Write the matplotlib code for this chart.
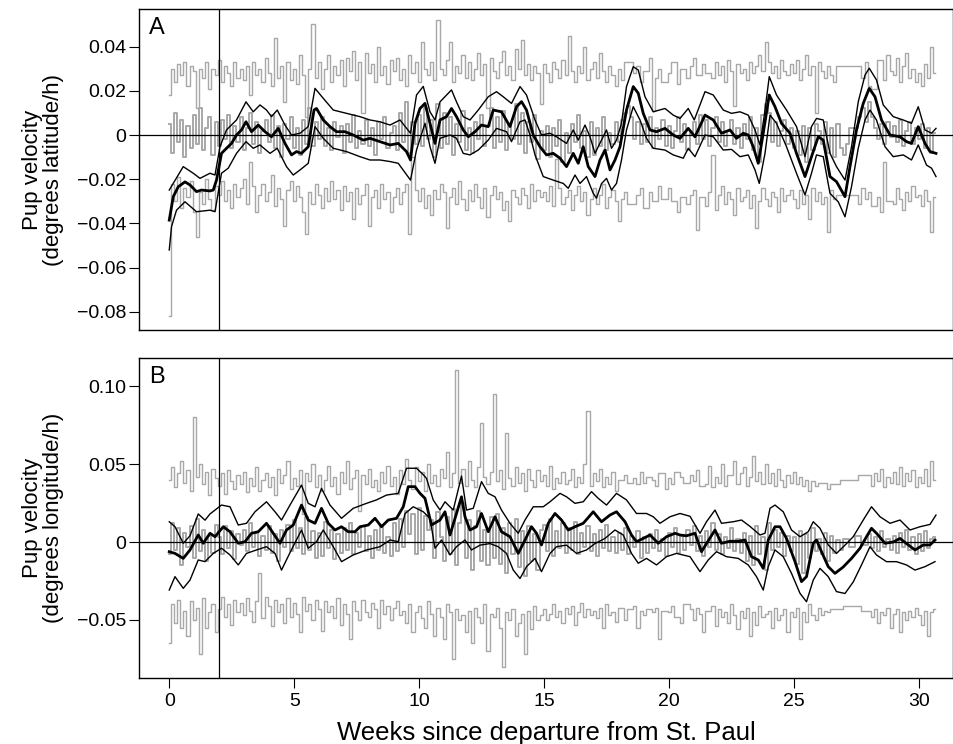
import numpy as np
import matplotlib
matplotlib.use("Agg")
from matplotlib import pyplot as plt

# ---- Settings ----
plt.rcParams['font.family'] = ['Liberation Sans Narrow', 'Liberation Sans', 'DejaVu Sans']
GRAY = "#a8a8a8"
GRAY_STEP = 0.125      # weeks between gray samples
MILLI = 1000.0         # all values below are in 0.001 deg/h

X_TICKS = [0, 5, 10, 15, 20, 25, 30]
A_TICKS = [0.04, 0.02, 0, -0.02, -0.04, -0.06, -0.08]
A_TICK_LABELS = ["0.04", "0.02", "0", "\u22120.02", "\u22120.04", "\u22120.06", "\u22120.08"]
B_TICKS = [0.10, 0.05, 0, -0.05]
B_TICK_LABELS = ["0.10", "0.05", "0", "\u22120.05"]
BREAK_WEEK = 2

# ---- Panel A (latitude) ----
# gray traces, one row per week (8 samples per week)
A_GRAY_HI = [
    18, 30, 24, 32, 27, 33, 22, 31,
    29, 12, 30, 26, 33, 21, 30, 27,
    34, 24, 31, 28, 22, 33, 26, 30,
    25, 31, 18, 33, 27, 30, 24, 35,
    28, 22, 44, 26, 31, 15, 33, 25,
    30, 23, 36, 27, 8, 30, 50, 26,
    33, 21, 30, 36, 24, 31, 27, 34,
    22, 35, 29, 38, 25, 33, 10, 37,
    28, 32, 24, 40, 27, 31, 23, 34,
    29, 35, 25, 30, 22, 36, 28, 33,
    24, 42, 30, 27, 33, 25, 52, 30,
    27, 34, 42, 24, 31, 28, 36, 26,
    33, 25, 30, 37, 27, 32, 12, 35,
    29, 26, 33, 38, 27, 31, 25, 39,
    30, 43, 27, 32, 25, 31, 28, 14,
    32, 28, 24, 33, 30, 26, 34, 27,
    45, 29, 24, 31, 28, 40, 25, 30,
    33, 26, 37, 29, 24, 31, 27, 22,
    30, 25, 33, 33, 33, 28, 31, 24,
    29, 29, 35, 11, 26, 30, 24, 24,
    28, 33, 33, 23, 30, 30, 26, 31,
    35, 27, 27, 32, 28, 28, 26, 33,
    27, 31, 24, 34, 29, 13, 32, 28,
    30, 25, 33, 28, 31, 36, 29, 42,
    33, 28, 31, 26, 34, 29, 27, 32,
    28, 34, 25, 30, 36, 27, 31, 10,
    33, 29, 26, 31, 27, 24, 31, 31,
    31, 31, 31, 31, 31, 31, 26, 33,
    22, 21, 21, 34, 34, 25, 36, 29,
    27, 35, 24, 31, 37, 26, 30, 24,
    28, 22, 32, 26, 40, 28,
]
A_GRAY_MID = [
    5, -8, 10, -3, 7, -10, 4, -6,
    9, -4, 12, -7, 3, 8, -9, 6,
    -5, 7, -2, 9, -6, 4, -3, 8,
    -7, 3, 10, -4, 6, -8, 2, 7,
    -3, 9, -6, 4, -10, 5, -2, 8,
    -6, 3, -9, 7, -4, 12, -5, 6,
    -2, 8, -5, 3, -7, 6, -1, 4,
    -8, 5, -3, 9, -6, 2, -4, 7,
    -5, 3, -9, 6, -2, 8, -6, 1,
    4, -7, 10, -3, 15, -8, 6, -4,
    9, -5, 12, -2, 7, -10, 14, -6,
    10, -4, 8, -9, 5, -3, 11, -7,
    3, -8, 6, -2, 9, -5, 4, 12,
    -6, 8, -3, 11, -7, 5, -2, 14,
    -4, 10, -8, 6, -3, 9, -11, 2,
    -7, 4, -10, 3, -5, 7, -12, 1,
    -8, 5, -3, 9, -6, 2, -10, 6,
    -9, 3, -5, 8, -7, 1, -4, 6,
    -3, 7, 10, 13, 8, -2, 6, -4,
    5, -3, 8, -6, 3, -2, 7, -5,
    4, -6, 2, 8, -3, 5, -7, 1,
    6, -4, 9, -2, 7, -5, 3, 8,
    -3, 6, -5, 2, 7, -4, 3, -6,
    5, -2, 8, -7, 3, -12, 9, 14,
    10, -3, 6, -5, 2, 7, -4, 3,
    -6, 2, -9, 4, -12, 3, -7, 5,
    2, -4, 6, -8, 3, -10, 5, -6,
    -9, -4, 3, 3, 3, 8, 12, 6,
    15, 8, 3, -2, 5, -4, 6, -1,
    4, -3, 7, -5, 2, 6, -4, 3,
    -2, 5, -6, 3, -8, 1,
]
A_GRAY_LO = [
    -82, -22, -30, -19, -33, -24, -28, -21,
    -35, -46, -26, -31, -20, -29, -34, -23,
    -27, -21, -30, -25, -33, -22, -28, -24,
    -20, -31, -12, -23, -35, -27, -22, -30,
    -26, -18, -32, -24, -29, -41, -25, -21,
    -30, -23, -28, -35, -45, -26, -31, -22,
    -27, -33, -24, -30, -21, -29, -25, -34,
    -23, -30, -26, -38, -24, -31, -27, -22,
    -41, -28, -25, -33, -22, -29, -26, -35,
    -28, -24, -31, -26, -22, -45, -10, -25,
    -30, -24, -33, -27, -36, -25, -29, -22,
    -26, -42, -28, -24, -31, -21, -29, -34,
    -25, -30, -22, -28, -33, -24, -37, -27,
    -23, -29, -26, -34, -30, -39, -25, -28,
    -31, -24, -27, -33, -22, -30, -25, -28,
    -26, -30, -23, -32, -11, -24, -31, -28,
    -25, -34, -27, -23, -30, -26, -36, -29,
    -24, -31, -27, -22, -33, -28, -25, -30,
    -39, -29, -26, -31, -31, -31, -27, -24,
    -33, -33, -26, -30, -30, -23, -29, -29,
    -24, -30, -30, -35, -28, -28, -31, -27,
    -25, -43, -28, -28, -32, -26, -9, -34,
    -27, -23, -31, -26, -29, -36, -24, -30,
    -28, -25, -33, -27, -42, -30, -24, -29,
    -32, -26, -28, -35, -24, -30, -27, -25,
    -29, -33, -25, -31, -27, -38, -24, -30,
    -26, -31, -28, -44, -25, -29, -27, -27,
    -27, -27, -27, -27, -27, -31, -24, -29,
    -26, -32, -32, -28, -35, -12, -30, -30,
    -31, -24, -29, -34, -26, -30, -23, -28,
    -27, -32, -25, -30, -44, -28,
]
# smoothed mean and interval, (week, value)
A_MEAN = [
    (0, -38.5), (0.16, -27.9), (0.36, -23.4), (0.63, -21.2), (0.83, -22.6), (1.09, -25.6),
    (1.29, -24.9), (1.63, -25.3), (1.76, -24.9), (1.89, -20.4), (2.09, -8.3), (2.29, -6.0),
    (2.49, -3.8), (2.69, 0), (2.89, 2.3), (3.07, 6.0), (3.29, 1.5), (3.56, 4.5), (3.83, 1.5),
    (4.09, -0.8), (4.36, 3.0), (4.63, -3.8), (4.89, -9.0), (5.09, -7.5), (5.29, -8.3),
    (5.56, -5.3), (5.79, 11.3), (5.89, 12), (6.16, 6.8), (6.43, 3.8), (6.69, 1.5), (7.03, 1.5),
    (7.36, 0), (7.76, -2.3), (8.03, -1.5), (8.43, -3), (8.83, -4.5), (9.16, -3.8), (9.49, -7.5),
    (9.65, -11.3), (9.83, 5.3), (10.03, 12), (10.23, 14.3), (10.43, 5.3), (10.63, -3.8),
    (10.83, 6.8), (11.09, 8.3), (11.29, 12), (11.49, 8.3), (11.76, 2.3), (11.96, -0.8),
    (12.23, 1.5), (12.49, 4.5), (12.76, 3.8), (12.96, 11.3), (13.29, 10.5), (13.63, 3.8),
    (13.89, 12.8), (14.09, 15.1), (14.29, 11.3), (14.56, 0), (14.83, -5.3), (15.09, -9),
    (15.36, -8.3), (15.63, -10.5), (15.89, -14.3), (16.16, -8.3), (16.36, -12.8), (16.56, -5.3),
    (16.76, -14.3), (17.03, -18.8), (17.23, -11.3), (17.43, -6.8), (17.63, -15.8), (17.83, -11.3),
    (18.03, -5.3), (18.29, 11.3), (18.56, 21.9), (18.76, 18.9), (18.96, 9.8), (19.23, 2.3),
    (19.49, 1.5), (19.83, 3), (20.16, 0), (20.43, -1.5), (20.76, 3), (21.03, -0.8), (21.43, 9),
    (21.76, 6.8), (22.09, 0.8), (22.43, 2.3), (22.69, -1.5), (22.96, 0.8), (23.16, 0),
    (23.36, -5.3), (23.56, -12.8), (23.76, 0.8), (24.0, 18.1), (24.23, 12.8), (24.49, 5.3),
    (24.83, 0.8), (25.09, -8.3), (25.43, -18.8), (25.69, -9.8), (25.96, -0.8), (26.16, -2.3),
    (26.43, -18.8), (26.69, -21.1), (27.03, -27.9), (27.23, -14.3), (27.49, 2.3), (27.76, 14.3),
    (28.0, 21.1), (28.23, 17.3), (28.49, 6.8), (28.83, 0), (29.23, -0.8), (29.49, -3),
    (29.69, -3.8), (29.96, 3.8), (30.23, -3.8), (30.43, -7.5), (30.67, -8.3),
]
A_UPPER = [
    (0, -24.9), (0.56, -14.3), (0.96, -17.3), (1.23, -19.6), (1.63, -17.3), (1.83, -18.1),
    (2.03, -5.3), (2.29, 2.3), (2.69, 6.8), (3.07, 15), (3.36, 10.5), (3.63, 13.6), (3.89, 11.3),
    (4.09, 8.3), (4.32, 11.3), (4.63, 4.5), (4.89, 0), (5.23, 0.8), (5.56, 3.8), (5.83, 21.1),
    (6.16, 16.6), (6.56, 11.3), (7.09, 9.8), (7.63, 8.3), (8.03, 6.8), (8.43, 6.0), (8.83, 4.5),
    (9.23, 6.8), (9.65, 0.8), (9.89, 18.1), (10.16, 22), (10.43, 10.5), (10.63, 6.8),
    (10.83, 15), (11.29, 20.4), (11.49, 15), (11.76, 8.3), (12.03, 6.8), (12.36, 11.3),
    (12.76, 17.3), (13.09, 19.6), (13.36, 17.3), (13.69, 14.3), (14.03, 21.9), (14.29, 18.1),
    (14.63, 6.8), (14.89, 0), (15.23, 0.8), (15.49, -0.8), (15.89, -3.8), (16.16, 2.3),
    (16.36, -2.3), (16.63, 4.5), (16.83, -0.8), (17.03, -8.3), (17.29, -2.3), (17.49, 2.3),
    (17.69, -6), (17.89, -2.3), (18.09, 5.3), (18.29, 21.9), (18.56, 30.9), (18.76, 29.4),
    (19.03, 17.3), (19.36, 10.5), (19.83, 12), (20.16, 9), (20.43, 7.5), (20.76, 12),
    (21.0, 6.8), (21.43, 19.6), (21.76, 18.1), (22.16, 11.3), (22.49, 9.8), (22.83, 10.5),
    (23.16, 9), (23.43, 2.3), (23.63, -4.5), (23.83, 11.3), (24.0, 26.4), (24.29, 18.1),
    (24.69, 11.3), (25.09, 3.8), (25.43, -9.8), (25.69, 3.8), (25.89, 7.5), (26.16, 6.8),
    (26.43, -8.3), (26.69, -14.3), (27.03, -20.4), (27.29, -5.3), (27.56, 15), (27.83, 27.1),
    (28.0, 30.2), (28.29, 24.9), (28.56, 13.6), (28.96, 8.3), (29.36, 6.8), (29.69, 5.3),
    (29.96, 12.8), (30.23, 2.3), (30.49, 0.8), (30.67, 3),
]
A_LOWER = [
    (0, -52), (0.09, -41.5), (0.29, -34), (0.63, -30.2), (1.09, -34.7), (1.63, -34),
    (1.83, -34.7), (2.09, -17.3), (2.36, -15), (2.69, -8.3), (3.07, -3), (3.36, -6),
    (3.63, -4.5), (4.03, -8.3), (4.32, -6), (4.69, -14.3), (4.96, -18.1), (5.23, -15.8),
    (5.56, -12.8), (5.83, 3.8), (6.16, -1.5), (6.56, -6), (7.09, -7.5), (7.63, -9.8),
    (8.03, -11.3), (8.43, -11.3), (8.83, -12), (9.16, -12.8), (9.65, -20.4), (9.89, -6.8),
    (10.23, 5.3), (10.43, -5.3), (10.63, -12.8), (10.83, -1.5), (11.23, 0), (11.49, -1.5),
    (11.76, -8.3), (12.03, -9), (12.36, -6.8), (12.76, -2.3), (13.09, 3), (13.49, 1.5),
    (13.69, -3), (14.03, 6), (14.23, 6.8), (14.43, 0), (14.63, -9), (14.96, -18.8),
    (15.36, -20.4), (15.76, -21.9), (15.96, -24.1), (16.23, -18.1), (16.43, -21.9),
    (16.69, -18.8), (16.96, -26.4), (17.09, -28.6), (17.29, -22), (17.49, -19.6),
    (17.69, -24.9), (17.89, -21.9), (18.09, -11.3), (18.29, 2.3), (18.56, 12.8), (18.83, 6.8),
    (19.09, -1.5), (19.36, -6), (19.83, -6.8), (20.16, -9), (20.56, -10.5), (20.76, -6),
    (21.03, -9.8), (21.43, 0), (21.76, -0.8), (22.16, -6.8), (22.49, -6.5), (22.83, -9.8),
    (23.16, -9), (23.43, -15.8), (23.6, -21.9), (23.83, -8.3), (24.03, 9), (24.29, 5.3),
    (24.69, -5.3), (25.09, -17.3), (25.43, -27.1), (25.69, -17.3), (25.89, -9), (26.16, -9.8),
    (26.43, -26.4), (26.76, -30.2), (27.03, -37), (27.29, -23.4), (27.56, -6), (27.83, 6.8),
    (28.03, 11.3), (28.29, 6.8), (28.63, -5.3), (28.96, -9.8), (29.36, -9), (29.69, -11.3),
    (29.96, -4.5), (30.29, -13.6), (30.49, -15), (30.67, -18.8),
]

# ---- Panel B (longitude) ----
B_GRAY_HI = [
    40, 48, 35, 44, 52, 38, 46, 33,
    80, 42, 50, 37, 45, 30, 47, 41,
    36, 44, 31, 46, 39, 34, 43, 37,
    45, 32, 41, 36, 48, 33, 40, 44,
    35, 42, 30, 47, 38, 43, 52, 34,
    41, 36, 46, 18, 44, 39, 50, 35,
    43, 33, 40, 49, 36, 42, 31, 45,
    38, 52, 34, 41, 46, 20, 43, 37,
    47, 35, 40, 33, 45, 38, 49, 36,
    42, 31, 46, 37, 53, 40, 34, 48,
    39, 45, 33, 50, 38, 43, 36, 47,
    41, 58, 35, 44, 110, 38, 47, 36,
    52, 40, 35, 48, 76, 42, 37, 45,
    95, 39, 46, 34, 70, 41, 36, 48,
    38, 44, 33, 47, 40, 35, 46, 39,
    43, 36, 49, 34, 41, 38, 45, 37,
    40, 47, 35, 42, 38, 50, 84, 36,
    44, 39, 47, 35, 42, 37, 45, 33,
    40, 40, 43, 38, 38, 41, 37, 45,
    38, 42, 42, 40, 36, 44, 44, 34,
    41, 37, 45, 45, 42, 38, 38, 43,
    39, 46, 36, 36, 37, 49, 35, 42,
    38, 50, 36, 43, 43, 52, 37, 44,
    48, 36, 42, 55, 39, 45, 37, 50,
    38, 44, 36, 47, 40, 35, 43, 38,
    45, 37, 42, 36, 40, 33, 39, 36,
    38, 38, 38, 34, 37, 37, 37, 40,
    40, 40, 40, 40, 40, 43, 43, 43,
    43, 36, 44, 39, 47, 35, 42, 38,
    45, 37, 48, 36, 44, 39, 46, 35,
    42, 38, 47, 36, 52, 40,
]
B_GRAY_MID = [
    -8, 12, -5, 9, -15, 6, -3, 10,
    -10, 15, -6, 8, -12, 4, -7, 11,
    3, -8, 10, -4, 7, -11, 5, -2,
    8, -6, 12, -3, 6, -9, 4, -5,
    10, -7, 5, -12, 8, -3, 11, -6,
    14, -4, 9, -8, 16, -5, 7, -10,
    6, -9, 13, -4, 8, -11, 5, -7,
    9, -5, 12, -8, 6, -3, 10, -6,
    4, -10, 8, -5, 11, -7, 3, -9,
    12, -6, 15, -3, 20, 5, 18, -8,
    22, -5, 17, 8, 14, -10, 19, 3,
    -12, 16, -8, 21, -15, 12, 25, -10,
    14, -18, 10, 20, -12, 8, -15, 16,
    -10, 18, -14, 9, -20, 12, -8, 15,
    -16, 7, -22, 10, -12, 5, -18, 8,
    11, -6, 15, -9, 7, -4, 12, -7,
    9, -5, 13, -8, 6, -3, 10, -6,
    5, -9, 8, -4, 11, -6, 3, -7,
    6, -5, 9, -8, 4, -3, 7, -10,
    3, -7, 5, -4, 8, -6, 2, -9,
    6, -3, 9, -7, 4, -5, 8, -2,
    10, -6, 4, -9, 7, -3, 12, -5,
    5, -8, 3, -4, 9, -6, 2, -7,
    6, -12, 4, -15, 10, -8, 3, -18,
    12, -5, 8, -3, 6, -9, 4, -6,
    3, -14, 7, -20, 5, -10, 9, -6,
    2, -8, 6, -12, 4, -7, 1, -5,
    2, 2, -3, -3, 4, 4, -2, -2,
    5, -4, 3, -6, 7, -3, 2, -5,
    4, -7, 6, -3, 8, -5, 3, -8,
    5, -6, 7, -4, 2, 3,
]
B_GRAY_LO = [
    -65, -40, -52, -37, -55, -44, -60, -38,
    -50, -42, -72, -36, -55, -45, -40, -58,
    -43, -35, -48, -40, -53, -37, -45, -39,
    -47, -36, -44, -51, -38, -20, -49, -35,
    -41, -54, -37, -45, -40, -52, -36, -48,
    -39, -46, -58, -35, -44, -40, -50, -37,
    -43, -57, -38, -45, -41, -49, -36, -53,
    -40, -46, -62, -38, -44, -50, -37, -45,
    -48, -39, -43, -55, -37, -46, -41, -50,
    -42, -38, -47, -44, -52, -40, -58, -45,
    -41, -49, -55, -38, -46, -60, -42, -48,
    -62, -40, -45, -75, -43, -50, -47, -58,
    -44, -65, -42, -48, -52, -40, -70, -46,
    -48, -42, -55, -80, -45, -50, -43, -60,
    -52, -46, -72, -44, -56, -41, -50, -47,
    -43, -50, -46, -40, -48, -44, -52, -42,
    -46, -41, -53, -45, -39, -48, -43, -47,
    -44, -49, -42, -55, -40, -47, -45, -51,
    -42, -42, -50, -43, -43, -41, -55, -44,
    -47, -43, -43, -45, -42, -62, -44, -44,
    -45, -41, -48, -48, -52, -40, -40, -43,
    -50, -42, -46, -58, -44, -44, -41, -54,
    -43, -48, -45, -52, -40, -47, -56, -44,
    -49, -42, -60, -45, -53, -41, -48, -46,
    -44, -55, -42, -50, -47, -43, -58, -45,
    -48, -42, -62, -45, -51, -40, -47, -50,
    -42, -47, -44, -45, -43, -43, -43, -43,
    -41, -41, -41, -41, -41, -41, -44, -44,
    -44, -48, -43, -52, -45, -47, -42, -55,
    -46, -43, -58, -45, -50, -44, -48, -42,
    -47, -53, -44, -60, -45, -43,
]
B_MEAN = [
    (0, -6.2), (0.23, -7.3), (0.56, -10.5), (0.83, -5.1), (1.16, 4.5), (1.36, -0.8),
    (1.63, 5.6), (1.83, 3.4), (2.16, 9.8), (2.43, 6.6), (2.76, -0.8), (3.03, 0.2), (3.29, 5.6),
    (3.56, 6.6), (3.89, 12), (4.16, 5.6), (4.43, -0.8), (4.69, 7.7), (4.96, 10.9), (5.29, 23.7),
    (5.56, 14.1), (5.83, 12), (6.09, 21.6), (6.36, 12), (6.63, 7.7), (6.89, 9.8), (7.16, 6.6),
    (7.43, 6.6), (7.63, 9.8), (7.96, 10.9), (8.23, 15.2), (8.49, 9.8), (8.76, 14.1),
    (9.09, 15.2), (9.36, 22.6), (9.56, 35.5), (9.83, 35.5), (10.03, 31.2), (10.23, 28),
    (10.49, 10.9), (10.83, 14.1), (11.03, 19.4), (11.23, 4.5), (11.49, 18.3), (11.69, 29),
    (11.83, 16.2), (12.03, 7.7), (12.29, 9.8), (12.49, 18.3), (12.76, 6.6), (13.03, 16.2),
    (13.29, 6.6), (13.63, 3.4), (13.96, -7.3), (14.23, 1.3), (14.49, 9.8), (14.69, 5.6),
    (14.89, -1.9), (15.16, 12), (15.43, 18.3), (15.69, 14.1), (15.96, 7.7), (16.23, 9.8),
    (16.56, 12), (16.96, 19.4), (17.29, 13), (17.63, 17.3), (17.89, 19.4), (18.23, 13),
    (18.49, 4.5), (18.69, 0.2), (18.96, 2.3), (19.23, 4.5), (19.56, -0.8), (19.89, 3.4),
    (20.23, 5.6), (20.43, 4.5), (20.69, 4), (21.03, 5.6), (21.29, -6.2), (21.49, -1),
    (21.83, 7.7), (22.09, -0.8), (22.43, 0.5), (22.76, 0.5), (23.03, 1.3), (23.29, -9.4),
    (23.56, -11.5), (23.76, -16.9), (23.96, 1.3), (24.23, 9.8), (24.43, 9.8), (24.69, 2.3),
    (25.03, -12.6), (25.29, -25.4), (25.49, -22.2), (25.76, -0.8), (25.89, 1.3), (26.09, -6.2),
    (26.36, -15.8), (26.63, -20.1), (26.96, -16), (27.29, -10.5), (27.63, -4), (27.89, 3.4),
    (28.09, 8.8), (28.29, 5.6), (28.63, -0.8), (28.96, 0), (29.23, 2.3), (29.49, -1),
    (29.83, -5.1), (30.16, -1.9), (30.43, -1.9), (30.63, 1.3),
]
B_UPPER = [
    (0, 13), (0.23, 9.8), (0.56, -0.8), (0.83, 4), (1.16, 18), (1.43, 14), (1.63, 18),
    (2.09, 23.7), (2.43, 22.6), (2.76, 10.9), (3.09, 12), (3.43, 19.4), (3.89, 25.8),
    (4.23, 19.4), (4.49, 14.1), (4.83, 23.7), (5.29, 36.5), (5.56, 24.8), (5.83, 22.6),
    (6.09, 34.4), (6.43, 23.7), (6.89, 15.2), (7.36, 21.6), (7.89, 24.8), (8.29, 27),
    (8.69, 30.1), (9.16, 31.2), (9.49, 47.3), (9.89, 47.3), (10.16, 43.2), (10.29, 40.8),
    (10.56, 26.9), (10.83, 20.5), (11.03, 25.8), (11.36, 20.5), (11.69, 42.3), (11.89, 20.5),
    (12.16, 21.6), (12.49, 38.7), (12.76, 31.2), (13.03, 29), (13.29, 20.5), (13.63, 12),
    (13.96, 5.6), (14.23, 14.1), (14.56, 22.6), (14.96, 22.6), (15.23, 25.8), (15.63, 31.2),
    (15.89, 29), (16.23, 24.8), (16.56, 25.8), (16.89, 32.3), (17.16, 28), (17.49, 23.7),
    (17.89, 31.2), (18.29, 27), (18.69, 18.3), (19.09, 18.3), (19.36, 16.2), (19.63, 12),
    (20.03, 16.2), (20.43, 18.3), (20.83, 16.5), (21.23, 5.6), (21.49, 13), (21.83, 20.5),
    (22.09, 12), (22.56, 13), (22.89, 14.1), (23.23, 10), (23.63, 4.5), (23.83, 5.6),
    (24.03, 21.6), (24.23, 23.7), (24.56, 19.4), (24.89, 7.7), (25.23, 3.4), (25.56, 6.6),
    (25.76, 13), (26.03, 8.8), (26.36, -1.9), (26.69, -7.3), (27.03, -2), (27.36, 3.4),
    (27.76, 14.1), (28.09, 22.6), (28.43, 16.2), (28.83, 12), (29.23, 14.1), (29.63, 7.7),
    (30.03, 9.8), (30.43, 11.3), (30.67, 17.3),
]
B_LOWER = [
    (0, -30.8), (0.23, -22.2), (0.56, -29.7), (0.83, -24.4), (1.16, -11.5), (1.43, -12.6),
    (1.76, -7.3), (2.09, -4), (2.43, -8.3), (2.76, -14.7), (3.09, -7.3), (3.49, -5.1),
    (3.89, -3), (4.23, -7.3), (4.49, -18), (4.83, -6.8), (5.29, 7.7), (5.56, -4), (5.89, 0.2),
    (6.16, 7.7), (6.56, -3), (6.89, -12.6), (7.36, -8.3), (7.89, -5.1), (8.43, -3), (8.83, 1.3),
    (9.16, 0.2), (9.43, 18.2), (9.76, 22.6), (10.16, 19.4), (10.43, 15.2), (10.63, -4),
    (10.89, 1.3), (11.23, -8.3), (11.49, -3), (11.83, 1.3), (12.09, -5.1), (12.43, -2),
    (12.83, -1), (13.16, -3), (13.49, -7.3), (13.76, -18), (14.03, -23.4), (14.29, -15.8),
    (14.63, -10.5), (14.89, -19), (15.23, -7.3), (15.49, -3), (15.89, -2), (16.29, -7.3),
    (16.69, -5.1), (17.03, -1), (17.43, 2.3), (17.83, 7.7), (18.16, 4.5), (18.49, -7.3),
    (18.76, -13.6), (19.09, -10.5), (19.49, -14.7), (19.89, -9.4), (20.29, -7.3),
    (20.83, -9.4), (21.23, -19), (21.56, -11.5), (21.89, -6.2), (22.29, -9.4), (22.76, -10.5),
    (23.16, -14.7), (23.49, -22.2), (23.76, -30.8), (23.96, -15.8), (24.23, -5.1),
    (24.56, -9.4), (24.89, -20.1), (25.23, -32.9), (25.49, -38.3), (25.76, -24.4),
    (26.03, -16.9), (26.36, -22.2), (26.69, -31.8), (27.03, -33), (27.36, -25.6),
    (27.69, -14.7), (28.03, -3), (28.29, -8.3), (28.69, -12.6), (29.09, -12.6),
    (29.49, -14.7), (29.83, -18), (30.23, -15.8), (30.63, -12.6),
]


def gray_trace(ax, vals, lw=1.0):
    wk = np.arange(len(vals)) * GRAY_STEP
    ax.plot(wk, np.array(vals) / MILLI, color=GRAY, lw=lw, drawstyle="steps-mid", zorder=1)


def black_line(ax, pairs, lw):
    arr = np.array(pairs, dtype=float)
    ax.plot(arr[:, 0], arr[:, 1] / MILLI, color="black", lw=lw, zorder=3,
            solid_joinstyle="round")


def panel(ax, grays, mean, upper, lower, ylim, ticks, labels, letter, ylabel):
    hi, mid, lo = grays
    gray_trace(ax, hi)
    gray_trace(ax, mid, lw=1.4)
    gray_trace(ax, lo)
    ax.axhline(0, color="black", lw=0.9, zorder=2)
    ax.axvline(BREAK_WEEK, color="black", lw=0.9, zorder=2)
    black_line(ax, upper, 1.0)
    black_line(ax, lower, 1.0)
    black_line(ax, mean, 2.0)
    ax.set_xlim(-1.21, 31.35)
    ax.set_ylim(*ylim)
    ax.set_yticks(ticks)
    ax.set_yticklabels(labels)
    ax.tick_params(axis="y", direction="out", length=7, width=0.8, labelsize=14, pad=2)
    for sp in ax.spines.values():
        sp.set_linewidth(1.0)
    ax.text(0.012, 0.975, letter, transform=ax.transAxes, ha="left", va="top", fontsize=17)
    ax.set_ylabel(ylabel, fontsize=16, linespacing=1.0)
    ax.yaxis.set_label_coords(-0.092, 0.5)


fig = plt.figure(figsize=(9.54, 7.44), dpi=100)
axA = fig.add_axes([139 / 954, 1 - 330 / 744, 814 / 954, 321 / 744])
axB = fig.add_axes([139 / 954, 1 - 678 / 744, 814 / 954, 320 / 744])

panel(axA, (A_GRAY_HI, A_GRAY_MID, A_GRAY_LO), A_MEAN, A_UPPER, A_LOWER,
      (-0.0882, 0.0570), A_TICKS, A_TICK_LABELS, "A",
      "Pup velocity\n(degrees latitude/h)")
panel(axB, (B_GRAY_HI, B_GRAY_MID, B_GRAY_LO), B_MEAN, B_UPPER, B_LOWER,
      (-0.0872, 0.1180), B_TICKS, B_TICK_LABELS, "B",
      "Pup velocity\n(degrees longitude/h)")

axA.tick_params(axis="x", bottom=False, labelbottom=False)
axB.set_xticks(X_TICKS)
axB.set_xticklabels([str(t) for t in X_TICKS])
axB.tick_params(axis="x", direction="out", length=7, width=0.8, labelsize=14, pad=4)
axB.set_xlabel("Weeks since departure from St. Paul", fontsize=18.5, labelpad=8)

fig.savefig("out.png", dpi=100)
